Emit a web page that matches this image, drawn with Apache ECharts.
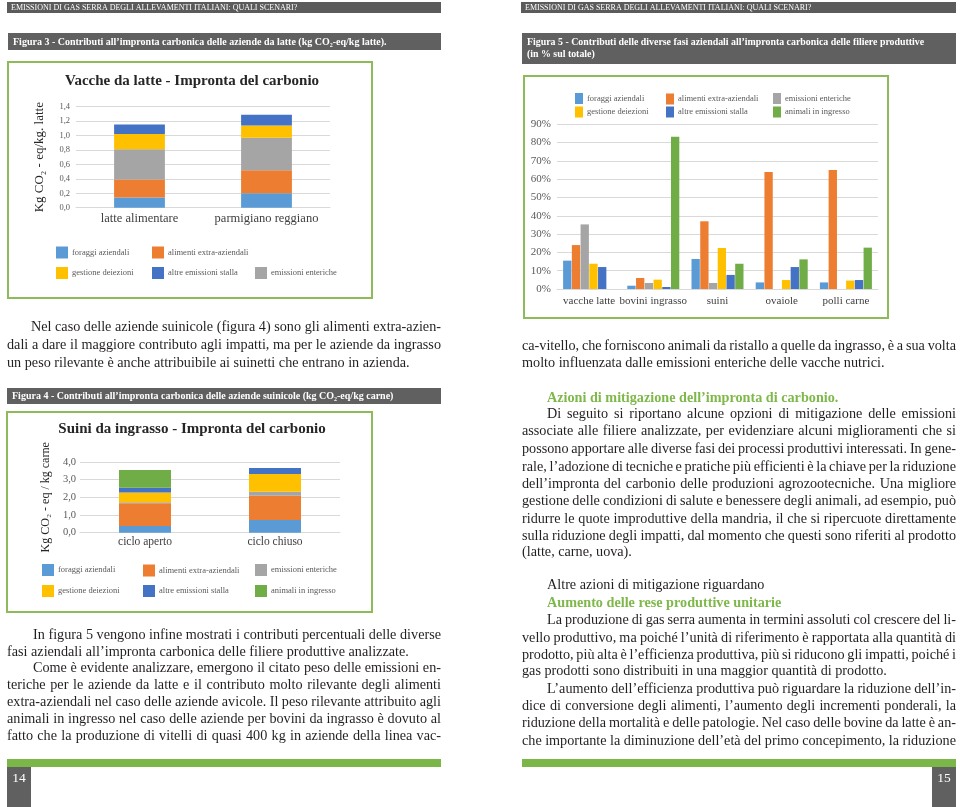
<!DOCTYPE html>
<html>
<head>
<meta charset="utf-8">
<script src="https://cdn.jsdelivr.net/npm/echarts@6/dist/echarts.min.js"></script>
<style>
html,body{margin:0;padding:0;background:#fff;}
#wrap{position:relative;width:960px;height:807px;overflow:hidden;}
#chart{position:absolute;left:0;top:0;width:960px;height:807px;}
#txt{position:absolute;left:0;top:0;width:960px;height:807px;pointer-events:none;}
.ln{position:absolute;height:18px;line-height:18px;font-family:'Liberation Serif','DejaVu Serif',serif;font-size:14.2px;color:#231f20;white-space:nowrap;}
</style>
</head>
<body>
<div id="wrap"><div id="chart"></div><div id="txt"></div></div>
<script>
// ---------- DATA ----------
const seriesNames = ['foraggi aziendali','alimenti extra-aziendali','emissioni enteriche','gestione deiezioni','altre emissioni stalla','animali in ingresso'];

// Figura 3 - vacche da latte (kg CO2-eq/kg latte)
const categories1 = ['latte alimentare','parmigiano reggiano'];
const foraggi1   = [0.14, 0.20];
const alimenti1  = [0.25, 0.32];
const enteriche1 = [0.42, 0.45];
const gestione1  = [0.21, 0.17];
const altre1     = [0.135, 0.15];
const yTicks1 = {min:0, max:1.4, interval:0.2};

// Figura 5 - % sul totale
const categories2 = ['vacche latte','bovini ingrasso','suini','ovaiole','polli carne'];
const foraggi2   = [15.5, 1.8, 16.4, 3.6, 3.6];
const alimenti2  = [24.0, 6.0, 37.0, 64.0, 65.0];
const enteriche2 = [35.3, 3.3, 3.3, 0, 0];
const gestione2  = [13.8, 5.1, 22.4, 4.9, 4.6];
const altre2     = [12.0, 1.1, 7.7, 12.0, 4.9];
const animali2   = [0, 83.2, 13.8, 16.2, 22.6];
const yTicks2 = {min:0, max:90, interval:10};

// Figura 4 - suini (kg CO2-eq/kg carne)
const categories3 = ['ciclo aperto','ciclo chiuso'];
const foraggi3   = [0.38, 0.72];
const alimenti3  = [1.28, 1.37];
const enteriche3 = [0.06, 0.23];
const gestione3  = [0.56, 1.00];
const altre3     = [0.27, 0.34];
const animali3   = [1.00, 0];
const yTicks3 = {min:0, max:4, interval:1};

// ---------- STYLE ----------
const FONT = "'Liberation Serif','DejaVu Serif',serif";
const colors = {
  'foraggi aziendali':'#5b9bd5',
  'alimenti extra-aziendali':'#ed7d31',
  'emissioni enteriche':'#a5a5a5',
  'gestione deiezioni':'#ffc000',
  'altre emissioni stalla':'#4472c4',
  'animali in ingresso':'#70ad47'
};
const GRID_LINE = '#d9d9d9';
const BAR_GRAY = '#606060';
const GREEN = '#7ab648';
const comma1 = v => v.toFixed(1).replace('.', ',');

const chart = echarts.init(document.getElementById('chart'), null, {renderer:'canvas'});

function yAxis(idx, t, fmt, fs, margin, name, nameGap, nameFs) {
  return {
    gridIndex: idx, type:'value', min:t.min, max:t.max, interval:t.interval,
    axisLine:{show:false}, axisTick:{show:false},
    splitLine:{lineStyle:{color:GRID_LINE, width:1}},
    axisLabel:{formatter:fmt, fontFamily:FONT, fontSize:fs, color:'#595959', margin:margin},
    name: name || '', nameLocation:'middle', nameRotate:90, nameGap:nameGap || 0,
    nameTextStyle:{fontFamily:FONT, fontSize:nameFs || 12, color:'#262626'}
  };
}
function xAxis(idx, data, fs, margin) {
  return {
    gridIndex: idx, type:'category', data:data,
    axisLine:{lineStyle:{color:GRID_LINE, width:1}}, axisTick:{show:false},
    axisLabel:{fontFamily:FONT, fontSize:fs, color:'#404040', margin:margin, interval:0}
  };
}
function bar(name, data, idx, extra) {
  return Object.assign({
    type:'bar', name:name, data:data, xAxisIndex:idx, yAxisIndex:idx,
    itemStyle:{color:colors[name]}, silent:true
  }, extra);
}

const s1 = [['foraggi aziendali',foraggi1],['alimenti extra-aziendali',alimenti1],['emissioni enteriche',enteriche1],['gestione deiezioni',gestione1],['altre emissioni stalla',altre1]]
  .map(([n,d]) => bar(n, d, 0, {stack:'s1', barWidth:'40%'}));
const s2 = [['foraggi aziendali',foraggi2],['alimenti extra-aziendali',alimenti2],['emissioni enteriche',enteriche2],['gestione deiezioni',gestione2],['altre emissioni stalla',altre2],['animali in ingresso',animali2]]
  .map(([n,d]) => bar(n, d, 1, {barCategoryGap:'19%', barGap:'5%'}));
const s3 = [['foraggi aziendali',foraggi3],['alimenti extra-aziendali',alimenti3],['emissioni enteriche',enteriche3],['gestione deiezioni',gestione3],['altre emissioni stalla',altre3],['animali in ingresso',animali3]]
  .map(([n,d]) => bar(n, d, 2, {stack:'s3', barWidth:'40%'}));

// legends: one per item for exact placement
function legendItems(list, iw, ih, fs) {
  return list.map(([name, left, top]) => ({
    data:[name], left:left, top:top, padding:0, itemWidth:iw, itemHeight:ih, itemGap:0,
    icon:'rect', selectedMode:false, orient:'horizontal',
    textStyle:{fontFamily:FONT, fontSize:fs, color:'#595959', padding:[0,0,0,-1]}
  }));
}
const legends = [].concat(
  legendItems([
    ['foraggi aziendali',56,246.5],['alimenti extra-aziendali',152,246.5],
    ['gestione deiezioni',56,267],['altre emissioni stalla',152,267],['emissioni enteriche',255,267]
  ], 12, 12, 8.5),
  legendItems([
    ['foraggi aziendali',575,93],['alimenti extra-aziendali',666,93.5],['emissioni enteriche',773,93],
    ['gestione deiezioni',575,106.5],['altre emissioni stalla',666,106.5],['animali in ingresso',773,106.5]
  ], 8, 11, 8.5),
  legendItems([
    ['foraggi aziendali',42,564],['alimenti extra-aziendali',143,564.5],['emissioni enteriche',255,564],
    ['gestione deiezioni',42,585],['altre emissioni stalla',143,585],['animali in ingresso',255,585]
  ], 12, 12, 8.5)
);

function rect(x,y,w,h,fill){return {type:'rect', silent:true, shape:{x:x,y:y,width:w,height:h}, style:{fill:fill}};}
function box(x,y,w,h){return {type:'rect', silent:true, shape:{x:x,y:y,width:w,height:h}, style:{fill:null, stroke:'#8dbb5a', lineWidth:2}};}
function txt(s,x,y,fs,opt){opt=opt||{};return {type:'text', silent:true, x:x, y:y, style:{text:s, fill:opt.fill||'#fff', font:(opt.bold?'bold ':'')+fs+'px '+FONT, textAlign:opt.align||'left', textVerticalAlign:'middle'}};}

const header = 'EMISSIONI DI GAS SERRA DEGLI ALLEVAMENTI ITALIANI: QUALI SCENARI?';
const graphics = [
  rect(7,2,434,11,'#5b5b5b'), txt(header,11,7.5,8),
  rect(521,2,435,11,'#5b5b5b'), txt(header,525,7.5,8),
  rect(8,33,433,17,BAR_GRAY), txt('Figura 3 - Contributi all’impronta carbonica delle aziende da latte (kg CO₂-eq/kg latte).',13,42,10,{bold:true}),
  rect(522,33,434,31,BAR_GRAY),
  txt('Figura 5 - Contributi delle diverse fasi aziendali all’impronta carbonica delle filiere produttive',527,42.5,9.9,{bold:true}),
  txt('(in % sul totale)',527,54,9.9,{bold:true}),
  rect(7,388,434,16,BAR_GRAY), txt('Figura 4 - Contributi all’impronta carbonica delle aziende suinicole (kg CO₂-eq/kg carne)',12,396,10,{bold:true}),
  box(8,62,364,236), box(524,76,364,242), box(7,412,365,200),
  txt('Vacche da latte - Impronta del carbonio',192,81,15,{bold:true,fill:'#262626',align:'center'}),
  txt('Suini da ingrasso - Impronta del carbonio',192,429,15,{bold:true,fill:'#262626',align:'center'}),
  rect(7,759,434,8,GREEN), rect(522,759,434,8,GREEN),
  rect(7,767,24,40,BAR_GRAY), txt('14',19,778,13.5,{align:'center'}),
  rect(932,767,24,40,BAR_GRAY), txt('15',944,778,13.5,{align:'center'})
];

chart.setOption({
  animation:false,
  backgroundColor:'#ffffff',
  textStyle:{fontFamily:FONT},
  grid:[
    {left:76, top:106.7, width:254, height:101},
    {left:557, top:124.3, width:321, height:164.7},
    {left:80, top:462, width:260, height:70.7}
  ],
  xAxis:[xAxis(0,categories1,12.5,5), xAxis(1,categories2,11,7), xAxis(2,categories3,11.5,3)],
  yAxis:[
    yAxis(0,yTicks1,comma1,8.5,6,'Kg CO₂ - eq/kg. latte',30,13),
    yAxis(1,yTicks2,'{value}%',11,6),
    yAxis(2,yTicks3,comma1,10.5,4,'Kg CO₂ - eq / kg carne',28,12)
  ],
  legend:legends,
  series:[].concat(s1,s2,s3),
  graphic:graphics
});

// ---------- body text ----------
const L0 = 7, LR = 441, R0 = 522, RR = 956;
const lines = [
  // [text, left, centerY, right, justify, style]
  ['Nel caso delle aziende suinicole (figura 4) sono gli alimenti extra-azien-', 31, 326, LR, true],
  ['dali a dare il maggiore contributo agli impatti, ma per le aziende da ingrasso', L0, 344, LR, true],
  ['un peso rilevante è anche attribuibile ai suinetti che entrano in azienda.', L0, 362, LR, false],
  ['In figura 5 vengono infine mostrati i contributi percentuali delle diverse', 33, 634, LR, true],
  ['fasi aziendali all’impronta carbonica delle filiere produttive analizzate.', L0, 651, LR, false],
  ['Come è evidente analizzare, emergono il citato peso delle emissioni en-', 33, 667, LR, true],
  ['teriche per le aziende da latte e il contributo molto rilevante degli alimenti', L0, 684, LR, true],
  ['extra-aziendali nel caso delle aziende avicole. Il peso rilevante attribuito agli', L0, 701, LR, true],
  ['animali in ingresso nel caso delle aziende per bovini da ingrasso è dovuto al', L0, 718, LR, true],
  ['fatto che la produzione di vitelli di quasi 400 kg in aziende della linea vac-', L0, 735, LR, true],

  ['ca-vitello, che forniscono animali da ristallo a quelle da ingrasso, è a sua volta', R0, 345, RR, true],
  ['molto influenzata dalle emissioni enteriche delle vacche nutrici.', R0, 362, RR, false],
  ['Azioni di mitigazione dell’impronta di carbonio.', 547, 397, RR, false, 'h'],
  ['Di seguito si riportano alcune opzioni di mitigazione delle emissioni', 547, 413, RR, true],
  ['associate alle filiere analizzate, per evidenziare alcuni miglioramenti che si', R0, 430, RR, true],
  ['possono apportare alle diverse fasi dei processi produttivi interessati. In gene-', R0, 448, RR, true],
  ['rale, l’adozione di tecniche e pratiche più efficienti è la chiave per la riduzione', R0, 466, RR, true],
  ['dell’impronta del carbonio delle produzioni agrozootecniche. Una migliore', R0, 483, RR, true],
  ['gestione delle condizioni di salute e benessere degli animali, ad esempio, può', R0, 500, RR, true],
  ['ridurre le quote improduttive della mandria, il che si ripercuote direttamente', R0, 518, RR, true],
  ['sulla riduzione degli impatti, dal momento che questi sono riferiti al prodotto', R0, 535, RR, true],
  ['(latte, carne, uova).', R0, 551, RR, false],
  ['Altre azioni di mitigazione riguardano', 547, 584, RR, false],
  ['Aumento delle rese produttive unitarie', 547, 602, RR, false, 'h'],
  ['La produzione di gas serra aumenta in termini assoluti col crescere del li-', 547, 619, RR, true],
  ['vello produttivo, ma poiché l’unità di riferimento è rapportata alla quantità di', R0, 637, RR, true],
  ['prodotto, più alta è l’efficienza produttiva, più si riducono gli impatti, poiché i', R0, 654, RR, true],
  ['gas prodotti sono distribuiti in una maggior quantità di prodotto.', R0, 670, RR, false],
  ['L’aumento dell’efficienza produttiva può riguardare la riduzione dell’in-', 547, 688, RR, true],
  ['dice di conversione degli alimenti, l’aumento degli incrementi ponderali, la', R0, 705, RR, true],
  ['riduzione della mortalità e delle patologie. Nel caso delle bovine da latte è an-', R0, 722, RR, true],
  ['che importante la diminuzione dell’età del primo concepimento, la riduzione', R0, 740, RR, true]
];
const host = document.getElementById('txt');
lines.forEach(([t, x, y, r, j, st]) => {
  const d = document.createElement('div');
  d.className = 'ln';
  const sp = document.createElement('span');
  sp.textContent = t;
  d.appendChild(sp);
  const avail = r - x;
  d.style.left = x + 'px';
  d.style.top = (y - 9) + 'px';
  d.style.width = avail + 'px';
  d.style.textAlign = 'left';
  if (st === 'h') { d.style.color = '#7fb84a'; d.style.fontWeight = 'bold'; }
  host.appendChild(d);
  const natural = sp.getBoundingClientRect().width;
  const spaces = (t.match(/ /g) || []).length;
  if (natural > avail - 0.5) {
    // squeeze: first reduce word spacing, then letter spacing if needed
    let need = natural - avail + 1;
    let ws = Math.max(-1.6, -need / Math.max(spaces, 1));
    d.style.wordSpacing = ws + 'px';
    need -= -ws * spaces;
    if (need > 0) d.style.letterSpacing = (-need / t.length) + 'px';
  }
  if (j) { d.style.textAlign = 'justify'; d.style.textAlignLast = 'justify'; }
});
</script>
</body>
</html>
